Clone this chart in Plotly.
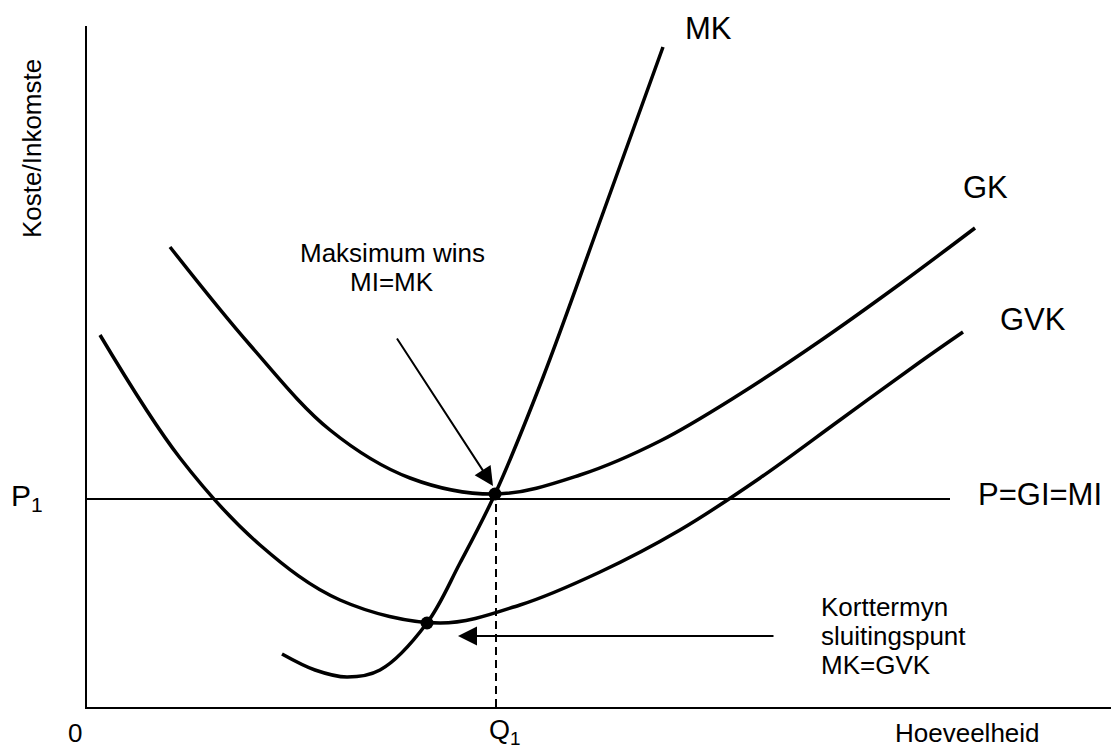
import plotly.graph_objects as go

# Data in chart units (origin at the axes intersection; x = quantity, y = cost/revenue)
mk_x = [195, 228, 260, 293, 340, 373, 408, 455, 516, 576]
mk_y = [53, 37, 30, 37, 84, 144, 213, 327, 494, 660]

gk_x = [83, 163, 243, 323, 410, 493, 573, 653, 733, 813, 888]
gk_y = [460, 362, 277, 229, 213, 232, 266, 313, 366, 423, 479]

gvk_x = [13, 93, 173, 253, 353, 433, 513, 593, 673, 753, 833, 876]
gvk_y = [372, 249, 162, 107, 84, 102, 135, 177, 229, 287, 345, 375]

price_x = [0, 863]
price_y = [208, 208]

q1_x = [409, 409]
q1_y = [0, 208]

dots_x = [408, 340]
dots_y = [213, 84]

X_MAX = 1032
Y_MAX = 681

FONT = "Arial, Liberation Sans, sans-serif"
BLACK = "#000000"

fig = go.Figure()

for xs, ys in [(gk_x, gk_y), (gvk_x, gvk_y), (mk_x, mk_y)]:
    fig.add_trace(go.Scatter(x=xs, y=ys, mode="lines",
                             line=dict(color=BLACK, width=3.5, shape="spline", smoothing=1.0),
                             hoverinfo="skip", showlegend=False))

fig.add_trace(go.Scatter(x=price_x, y=price_y, mode="lines",
                         line=dict(color=BLACK, width=2), showlegend=False, hoverinfo="skip"))
fig.add_trace(go.Scatter(x=q1_x, y=q1_y, mode="lines",
                         line=dict(color=BLACK, width=2, dash="8px,5px"), showlegend=False, hoverinfo="skip"))
fig.add_trace(go.Scatter(x=dots_x, y=dots_y, mode="markers",
                         marker=dict(color=BLACK, size=13), showlegend=False, hoverinfo="skip",
                         cliponaxis=False))

annotations = []

def label(x, y, text, size, xanchor="center", textangle=0):
    annotations.append(dict(x=x / X_MAX, y=y / Y_MAX, xref="paper", yref="paper", text=text,
                            showarrow=False,
                            font=dict(family=FONT, size=size, color=BLACK),
                            xanchor=xanchor, yanchor="middle", textangle=textangle))

label(621, 679, "MK", 31)
label(898, 519, "GK", 31)
label(946, 388, "GVK", 31)
label(953, 213, "P=GI=MI", 31)
label(-60, 210, "P<sub>1</sub>", 30)
label(-55, 558, "Koste/Inkomste", 26, textangle=-90)
label(305, 454, "Maksimum wins", 26)
label(305, 425, "MI=MK", 26)
label(732, 100, "Korttermyn", 26, xanchor="left")
label(732, 71, "sluitingspunt", 26, xanchor="left")
label(732, 42, "MK=GVK", 26, xanchor="left")
label(-12, -26, "0", 26)
label(418, -25, "Q<sub>1</sub>", 27)
label(880, -26, "Hoeveelheid", 26)

# Arrows
annotations.append(dict(x=406, y=221, ax=309, ay=370, xref="x", yref="y", axref="x", ayref="y",
                        text="", showarrow=True, arrowhead=2, arrowsize=1.9, arrowwidth=2,
                        arrowcolor=BLACK, standoff=0))
annotations.append(dict(x=371, y=71, ax=688, ay=71, xref="x", yref="y", axref="x", ayref="y",
                        text="", showarrow=True, arrowhead=2, arrowsize=1.9, arrowwidth=2,
                        arrowcolor=BLACK, standoff=0))

# The page adds an 8px body margin, so the figure is 8px smaller and the margins compensate.
fig.update_layout(
    width=1111, height=740,
    margin=dict(l=79, r=0, t=18, b=41),
    paper_bgcolor="white", plot_bgcolor="white",
    annotations=annotations,
    xaxis=dict(range=[0, X_MAX], showline=True, linewidth=2, linecolor=BLACK,
               showgrid=False, zeroline=False, showticklabels=False, ticks=""),
    yaxis=dict(range=[0, Y_MAX], showline=True, linewidth=2, linecolor=BLACK,
               showgrid=False, zeroline=False, showticklabels=False, ticks=""),
)

fig.write_html("out.html")
